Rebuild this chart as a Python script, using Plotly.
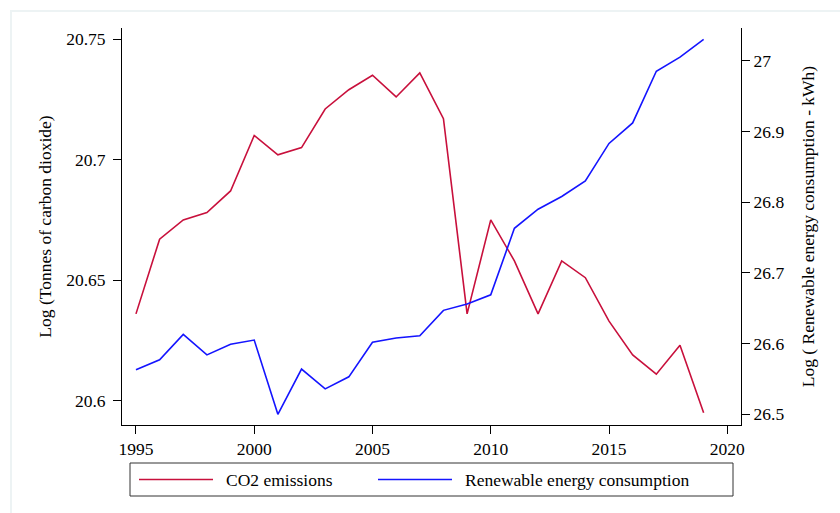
import plotly.graph_objects as go

# Annual series, 1995-2019
years = list(range(1995, 2020))

# Log of CO2 emissions (tonnes of carbon dioxide)
co2_log = [20.636, 20.667, 20.675, 20.678, 20.687, 20.710, 20.702, 20.705,
           20.721, 20.729, 20.735, 20.726, 20.736, 20.717, 20.636, 20.675,
           20.658, 20.636, 20.658, 20.651, 20.633, 20.619, 20.611, 20.623,
           20.595]

# Log of renewable energy consumption (kWh)
renew_log = [26.563, 26.577, 26.613, 26.584, 26.599, 26.605, 26.500, 26.564,
             26.536, 26.553, 26.602, 26.608, 26.611, 26.647, 26.656, 26.669,
             26.763, 26.790, 26.808, 26.830, 26.883, 26.912, 26.985, 27.005,
             27.030]

x_ticks = [1995, 2000, 2005, 2010, 2015, 2020]
y1_ticks = [20.6, 20.65, 20.7, 20.75]
y1_text = ["20.6", "20.65", "20.7", "20.75"]
y2_ticks = [26.5, 26.6, 26.7, 26.8, 26.9, 27.0]
y2_text = ["26.5", "26.6", "26.7", "26.8", "26.9", "27"]

series_names = ["CO2 emissions", "Renewable energy consumption"]
RED = "#c8103c"
BLUE = "#1414ff"
FONT = "Liberation Serif"

W, H = 840, 513
L, R, T, B = 122, 99, 28, 88
pw, ph = W - L - R, H - T - B


def px(x):
    return (x - L) / pw


def py(y):
    return (H - B - y) / ph


fig = go.Figure()
fig.add_trace(go.Scatter(x=years, y=co2_log, mode="lines", name=series_names[0],
                         line=dict(color=RED, width=1.6), yaxis="y"))
fig.add_trace(go.Scatter(x=years, y=renew_log, mode="lines", name=series_names[1],
                         line=dict(color=BLUE, width=1.6), yaxis="y2"))

axis_common = dict(showgrid=False, zeroline=False, showline=True, linecolor="black",
                   linewidth=1, ticks="outside", ticklen=8, tickcolor="black",
                   tickfont=dict(family=FONT, size=17.5, color="black"))

shapes = [
    # light outer frame
    dict(type="rect", xref="paper", yref="paper", x0=px(11), x1=px(860),
         y0=py(540), y1=py(11), line=dict(color="#edf3f4", width=2), layer="below"),
    # legend box
    dict(type="rect", xref="paper", yref="paper", x0=px(130), x1=px(733),
         y0=py(496), y1=py(463), line=dict(color="#333333", width=1)),
    dict(type="line", xref="paper", yref="paper", x0=px(139), x1=px(213),
         y0=py(479.5), y1=py(479.5), line=dict(color=RED, width=1.6)),
    dict(type="line", xref="paper", yref="paper", x0=px(378), x1=px(452),
         y0=py(479.5), y1=py(479.5), line=dict(color=BLUE, width=1.6)),
]

annotations = [
    dict(xref="paper", yref="paper", x=px(224), y=py(479.5), text=series_names[0],
         showarrow=False, xanchor="left", yanchor="middle",
         font=dict(family=FONT, size=17.5, color="black")),
    dict(xref="paper", yref="paper", x=px(463), y=py(479.5), text=series_names[1],
         showarrow=False, xanchor="left", yanchor="middle",
         font=dict(family=FONT, size=17.5, color="black")),
]

fig.update_layout(
    width=W, height=H,
    margin=dict(l=L, r=R, t=T, b=B, autoexpand=False),
    paper_bgcolor="white", plot_bgcolor="white",
    showlegend=False,
    font=dict(family=FONT, color="black"),
    xaxis=dict(range=[1994.41, 2020.58], tickvals=x_ticks, **axis_common),
    yaxis=dict(range=[20.5899, 20.7546], tickvals=y1_ticks, ticktext=y1_text,
               ticklabelstandoff=4,
               title=dict(text="Log (Tonnes of carbon dioxide)", standoff=10,
                          font=dict(family=FONT, size=17.5)),
               **axis_common),
    yaxis2=dict(range=[26.4849, 27.0462], tickvals=y2_ticks, ticktext=y2_text,
                overlaying="y", side="right",
                title=dict(text="Log ( Renewable energy consumption - kWh)", standoff=18,
                           font=dict(family=FONT, size=17.5)),
                **axis_common),
    shapes=shapes,
    annotations=annotations,
)

fig.write_html("out.html")
